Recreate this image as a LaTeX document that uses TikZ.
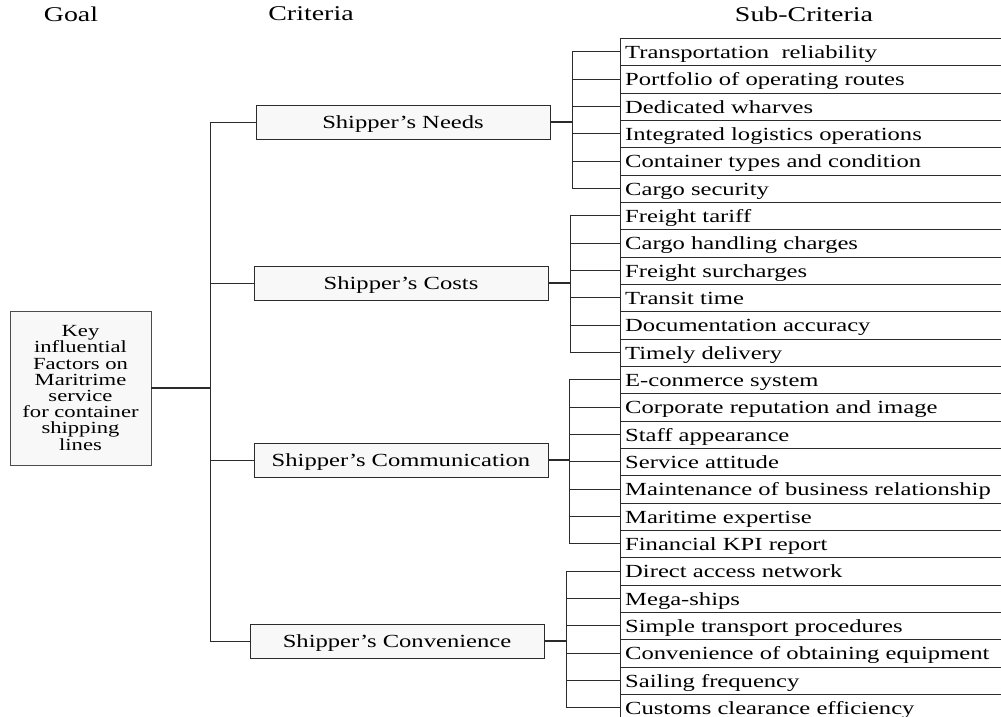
\documentclass[tikz,border=0pt]{standalone}
\usepackage{fontspec}
\setmainfont{Liberation Serif}[FakeStretch=1.33]
\usepackage{tikz}

\definecolor{boxfill}{HTML}{F8F8F8}
\definecolor{linegray}{HTML}{2B2B2B}

\begin{document}
\begin{tikzpicture}[x=1pt,y=-1pt,
  every node/.style={font=\fontsize{18.5}{20}\selectfont},
  head/.style={font=\fontsize{21}{22}\selectfont},
  goal/.style={draw=linegray!85,fill=boxfill,align=center,text width=137pt,
    minimum width=141pt,minimum height=154pt,inner sep=2pt,
    font=\fontsize{17}{16.2}\selectfont},
  crit/.style={draw=linegray,fill=boxfill,minimum width=294pt,minimum height=34pt,inner sep=0pt,
    text height=15pt,text depth=2.4pt},
  sub/.style={draw=linegray,anchor=north west,minimum height=27.33pt,text width=371pt,
    inner xsep=5pt,inner ysep=0pt,align=left,text height=15pt,text depth=1.8pt},
  tick/.style={draw=linegray,line width=.9pt},
  link/.style={draw=linegray,line width=1.4pt}]

    \useasboundingbox (0,0) rectangle (1001,717);

    % headings
    \node[head](hgoal) at (71,14){Goal};
    \node[head](hcrit) at (311,14){Criteria};
    \node[head](hsub) at (804,14){Sub-Criteria};

    % goal and criteria
    \node[goal](goal) at (80.5,388){Key\\influential\\Factors on\\Maritrime\\service\\for container\\shipping\\lines};
    \node[crit](needs) at (403,122){Shipper's Needs};
    \node[crit](costs) at (401,283){Shipper's Costs};
    \node[crit](comm) at (401,460){Shipper's Communication};
    \node[crit](conv) at (397,641){Shipper's Convenience};

    % sub-criteria rows
    \foreach \t [count=\i] in {Transportation\ \ reliability,Portfolio of operating routes,
        Dedicated wharves,Integrated logistics operations,Container types and condition,
        Cargo security,Freight tariff,Cargo handling charges,Freight surcharges,
        Transit time,Documentation accuracy,Timely delivery,E-conmerce system,
        Corporate reputation and image,Staff appearance,Service attitude,
        Maintenance of business relationship,Maritime expertise,Financial KPI report,
        Direct access network,Mega-ships,Simple transport procedures,
        Convenience of obtaining equipment,Sailing frequency,Customs clearance efficiency}
        \node[sub](s\i) at (620,{38+(\i-1)*27.33}){\t};

    % goal to criteria
    \coordinate (gj) at (210,388);
    \draw[link](goal) -- (gj);
    \draw[tick](gj |- needs.west) -- (gj |- conv.west);
    \foreach \c in {needs,costs,comm,conv}
        \draw[tick](gj |- \c.west) -- (\c.west);

    % criteria to sub-criteria
    \coordinate (nj) at (572,122);
    \coordinate (cj) at (570,283);
    \coordinate (mj) at (569,460);
    \coordinate (vj) at (566,641);
    \draw[link](needs) -- (nj);
    \draw[link](costs) -- (cj);
    \draw[link](comm) -- (mj);
    \draw[link](conv) -- (vj);
    \draw[tick](nj |- s1.west) -- (nj |- s6.west);
    \draw[tick](cj |- s7.west) -- (cj |- s12.west);
    \draw[tick](mj |- s13.west) -- (mj |- s19.west);
    \draw[tick](vj |- s20.west) -- (vj |- s25.west);
    \foreach \i in {1,...,6} \draw[tick](nj |- s\i.west) -- (s\i.west);
    \foreach \i in {7,...,12} \draw[tick](cj |- s\i.west) -- (s\i.west);
    \foreach \i in {13,...,19} \draw[tick](mj |- s\i.west) -- (s\i.west);
    \foreach \i in {20,...,25} \draw[tick](vj |- s\i.west) -- (s\i.west);
\end{tikzpicture}
\end{document}
